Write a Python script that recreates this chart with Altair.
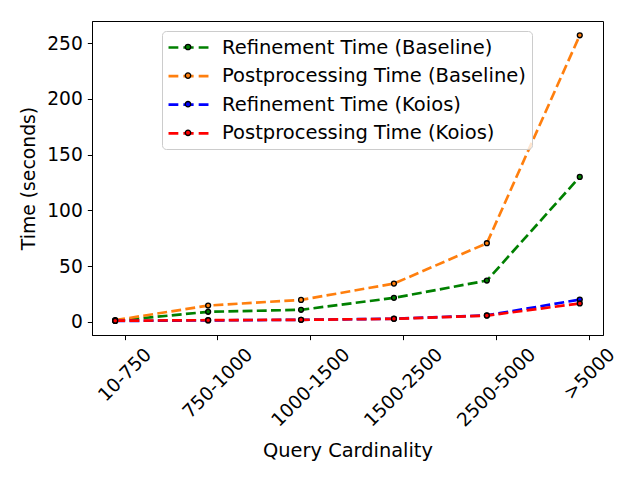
import json
import altair as alt
import pandas as pd

categories = ["10-750", "750-1000", "1000-1500", "1500-2500", "2500-5000", ">5000"]
series_names = [
    "Refinement Time (Baseline)",
    "Postprocessing Time (Baseline)",
    "Refinement Time (Koios)",
    "Postprocessing Time (Koios)",
]
refinement_baseline = [1.0, 9.0, 10.8, 21.5, 37.0, 130.0]
postprocessing_baseline = [1.5, 14.6, 19.7, 34.3, 70.5, 257.0]
refinement_koios = [0.8, 1.3, 1.8, 2.8, 5.8, 20.0]
postprocessing_koios = [1.0, 1.5, 1.8, 2.7, 5.6, 16.5]
colors = ["green", "#ff7f0e", "blue", "red"]
marker_keys = ["m1", "m2", "m3", "m4"]

series_values = [refinement_baseline, postprocessing_baseline, refinement_koios, postprocessing_koios]
rows = []
for s, k, vals in zip(series_names, marker_keys, series_values):
    for i, v in enumerate(vals):
        rows.append({"series": s, "marker": k, "pos": i - 0.1, "value": v})
df = pd.DataFrame(rows)

FS = 18.67
LEG_FS = 19.5
FONT = "DejaVu Sans"
em = {d: 0.636 for d in "0123456789"}
em["-"] = 0.361
em[">"] = 0.838
conds = []
for i, c in enumerate(categories):
    w = sum(em[ch] for ch in c) * FS
    conds.append({"test": f"datum.value == {i}", "value": round((w - FS) / (2 * 2 ** 0.5), 2)})
label_offset = {"condition": conds, "value": 0}
label_expr = json.dumps(categories) + "[datum.value]"

x_enc = alt.X(
    "pos:Q",
    scale=alt.Scale(domain=[-0.35, 5.15], nice=False, zero=False),
    axis=alt.Axis(
        values=list(range(len(categories))),
        labelExpr=label_expr,
        labelAngle=-45,
        labelAlign="right",
        labelBaseline="top",
        labelPadding=5,
        labelOffset=label_offset,
        title="Query Cardinality",
        titleFontSize=19.4,
        titleY=121,
        titleBaseline="alphabetic",
    ),
)
y_enc = alt.Y(
    "value:Q",
    scale=alt.Scale(domain=[-11.8, 269.8], nice=False, zero=False),
    axis=alt.Axis(
        values=[0, 50, 100, 150, 200, 250],
        title="Time (seconds)",
        titleFontSize=18.8,
        titleX=-64,
        titleBaseline="middle",
        labelPadding=5,
    ),
)

dash_path = "M-2.22,0H-1.13M-0.57,0H0.57M1.13,0H2.22"
circle_path = "M0.3,0A0.3,0.3,0,1,1,-0.3,0A0.3,0.3,0,1,1,0.3,0Z"

common_legend = dict(
    orient="none",
    legendX=70,
    legendY=10,
    title=None,
    symbolSize=324,
    padding=6,
    rowPadding=8.6,
    labelOffset=23,
    symbolOffset=10,
    labelFontSize=LEG_FS,
    labelFont=FONT,
    labelColor="black",
    labelLimit=500,
)

line_legend = alt.Legend(
    symbolType=dash_path,
    symbolStrokeWidth=2.67,
    symbolFillColor="transparent",
    fillColor="rgba(255,255,255,0.8)",
    strokeColor="#cccccc",
    cornerRadius=4,
    zindex=1,
    **common_legend,
)
point_legend = alt.Legend(
    symbolType=circle_path,
    symbolStrokeColor="black",
    symbolStrokeWidth=1.33,
    labelExpr="' '",
    zindex=2,
    **common_legend,
)

base = alt.Chart(df)
layers = []
for s in series_names:
    sub = base.transform_filter(alt.datum.series == s)
    layers.append(
        sub.mark_line(strokeDash=[9.9, 4.3], strokeWidth=2.67).encode(
            x=x_enc,
            y=y_enc,
            color=alt.Color("series:N", scale=alt.Scale(domain=series_names, range=colors), legend=line_legend),
        )
    )
    layers.append(
        sub.mark_point(filled=True, size=24, stroke="black", strokeWidth=1.33, opacity=1).encode(
            x=x_enc,
            y=y_enc,
            fill=alt.Fill("marker:N", scale=alt.Scale(domain=marker_keys, range=colors), legend=point_legend),
        )
    )

chart = (
    alt.layer(*layers)
    .properties(
        width=511,
        height=314,
        autosize=alt.AutoSizeParams(type="none"),
        padding={"left": 84, "top": 13, "right": 29, "bottom": 130},
    )
    .configure_view(stroke="black", strokeWidth=1)
    .configure_axis(
        grid=False,
        labelFont=FONT,
        titleFont=FONT,
        labelFontSize=FS,
        titleFontSize=FS,
        titleFontWeight="normal",
        labelColor="black",
        titleColor="black",
        domainColor="black",
        domainWidth=1,
        tickColor="black",
        tickWidth=1,
        tickSize=4.67,
    )
)

chart.save("out.html", embed_options={"renderer": "svg", "actions": False})
